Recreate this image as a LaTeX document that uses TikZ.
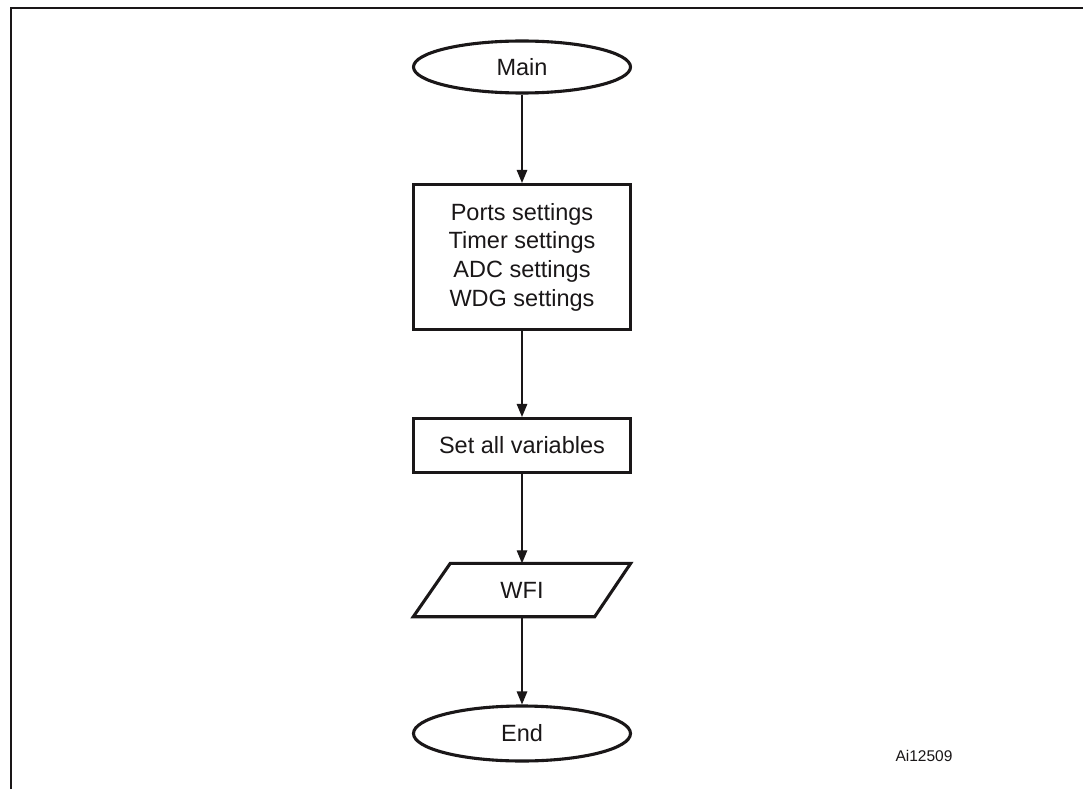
\documentclass[tikz,border=0pt]{standalone}
\usepackage{fontspec}
\setmainfont{Liberation Sans}
\usetikzlibrary{shapes.geometric,arrows.meta}
\definecolor{ink}{HTML}{1A1718}
\begin{document}
\begin{tikzpicture}[x=1pt,y=-1pt,
  every node/.style={text=ink,font=\fontsize{23.5}{28.7}\selectfont},
  boxline/.style={draw=ink,line width=3.1pt},
  term/.style={boxline,ellipse,minimum width=217pt,minimum height=52pt,inner sep=0pt},
  proc/.style={boxline,rectangle,minimum width=217pt,inner sep=0pt,align=center},
  arr/.style={draw=ink,line width=1.3pt,-{Triangle[length=13pt,width=10.5pt]}}]
\useasboundingbox (0,0) rectangle (1083,789);
\fill[white] (0,0) rectangle (1083,789);
% frame
\draw[ink,line width=2pt] (10.5,789) -- (10.5,8.5) -- (1083,8.5);
% nodes
\node[term] (main) at (522,67) {Main};
\node[proc,minimum height=145pt] (ports) at (522,257) {Ports settings\\Timer settings\\ADC settings\\WDG settings};
\node[proc,minimum height=54pt] (set) at (522,445.5) {Set all variables};
\node[minimum width=217pt,minimum height=53pt,inner sep=0pt] (wfi) at (522,590) {WFI};
\draw[boxline,line join=miter] ([xshift=37pt]wfi.north west) -- (wfi.north east) -- ([xshift=-36pt]wfi.south east) -- (wfi.south west) -- cycle;
\node[term,minimum height=55pt] (end) at (522,733.5) {End};
\node[font=\fontsize{15.5}{18}\selectfont] (id) at (924,756) {Ai12509};
% connectors
\draw[arr] (main.south) -- (ports.north);
\draw[arr] (ports.south) -- (set.north);
\draw[arr] (set.south) -- (wfi.north);
\draw[arr] (wfi.south) -- (end.north);
\end{tikzpicture}
\end{document}
